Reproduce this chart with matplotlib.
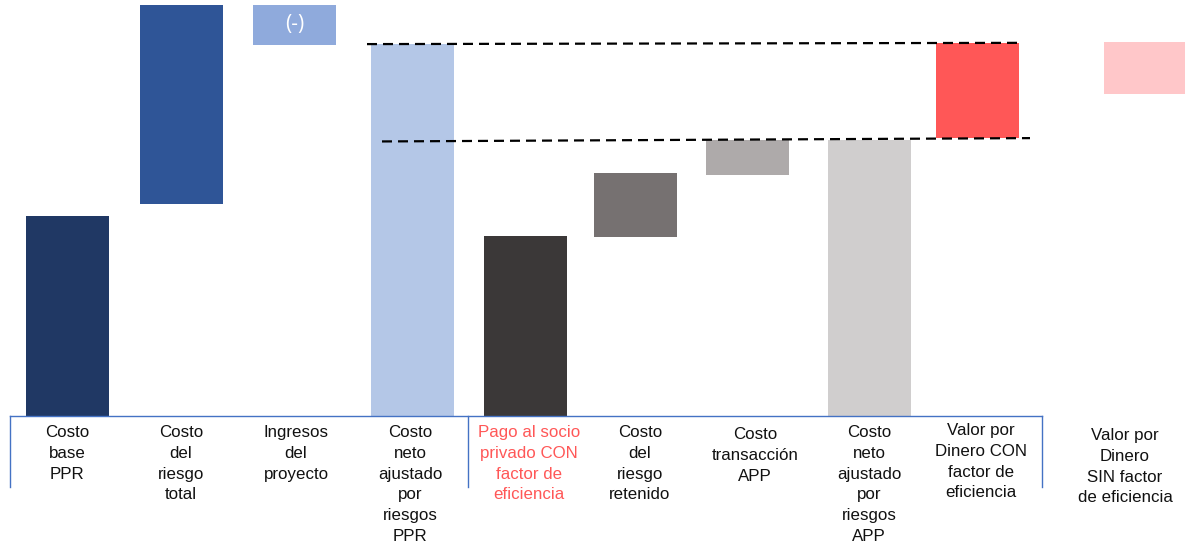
import matplotlib
matplotlib.use("Agg")
import matplotlib.pyplot as plt

plt.rcParams['font.family'] = ['Liberation Sans', 'DejaVu Sans']

# ---- data (arbitrary units, schematic waterfall) ----
categories = [
    "Costo\nbase\nPPR",
    "Costo\ndel\nriesgo\ntotal",
    "Ingresos\ndel\nproyecto",
    "Costo\nneto\najustado\npor\nriesgos\nPPR",
    "Pago al socio\nprivado CON\nfactor de\neficiencia",
    "Costo\ndel\nriesgo\nretenido",
    "Costo\ntransacción\nAPP",
    "Costo\nneto\najustado\npor\nriesgos\nAPP",
    "Valor por\nDinero CON\nfactor de\neficiencia",
    "Valor por\nDinero\nSIN factor\nde eficiencia",
]
bar_bottom = [0.0, 51.0, 89.2, 0.0, 0.0, 43.0, 57.9, 0.0, 66.8, 77.4]
bar_top    = [48.1, 98.8, 98.8, 89.4, 43.3, 58.4, 66.3, 66.3, 89.7, 89.9]
bar_text   = ["", "", "(-)", "", "", "", "", "", "", ""]

# ---- layout / style ----
bar_x   = [67, 181, 294.5, 412, 525.5, 635.5, 747.5, 869.5, 977.5, 1145]
label_x = [67, 181, 296, 410, 529, 640, 755, 869, 981, 1125]
label_y_px = [425, 425, 425, 425, 425, 425, 427, 425, 423, 428]
bar_w   = 83
colors  = ["#203864", "#2F5597", "#8FAADC", "#B4C7E7", "#3B3838",
           "#767171", "#AEAAAA", "#D0CECE", "#FF5757", "#FFC7C9"]
label_colors = ["#111111"] * 10
label_colors[4] = "#FF5757"

W, H = 1185, 542
px_per_unit = 4.16
base_px = 416
ymax = base_px / px_per_unit
ymin = -(H - base_px) / px_per_unit

fig = plt.figure(figsize=(W / 100, H / 100), dpi=100)
ax = fig.add_axes([0, 0, 1, 1])
ax.set_xlim(0, W)
ax.set_ylim(ymin, ymax)
ax.axis("off")

heights = [t - b for t, b in zip(bar_top, bar_bottom)]
ax.bar(bar_x, heights, bottom=bar_bottom, width=bar_w, color=colors,
       linewidth=0, zorder=2)

for x, b, t, s in zip(bar_x, bar_bottom, bar_top, bar_text):
    if s:
        ax.text(x, (b + t) / 2, s, color="white", ha="center", va="center",
                fontsize=15, family=["Open Sans", "DejaVu Sans"], zorder=3)

# dashed connector lines
dash = (0, (4.5, 2.7))
ax.plot([367, 1017], [bar_top[3], bar_top[8]], color="black", lw=1.6,
        linestyle=dash, zorder=4)
ax.plot([382, 1030], [bar_top[7] - 0.3, bar_bottom[8]], color="black", lw=1.6,
        linestyle=dash, zorder=4)

# category axis with separators
axis_col = "#4472C4"
sep_bottom = -(487 - base_px) / px_per_unit
ax.plot([10, 1042], [0, 0], color=axis_col, lw=1.0, zorder=3)
for sx in [10, 468, 1042]:
    ax.plot([sx, sx], [0, sep_bottom], color=axis_col, lw=1.0, zorder=3)

for lx, ly, lab, c in zip(label_x, label_y_px, categories, label_colors):
    ax.text(lx, -(ly - base_px) / px_per_unit, lab, ha="center", va="top",
            fontsize=12.2, color=c, linespacing=1.48)

fig.savefig("out.png", dpi=100)
